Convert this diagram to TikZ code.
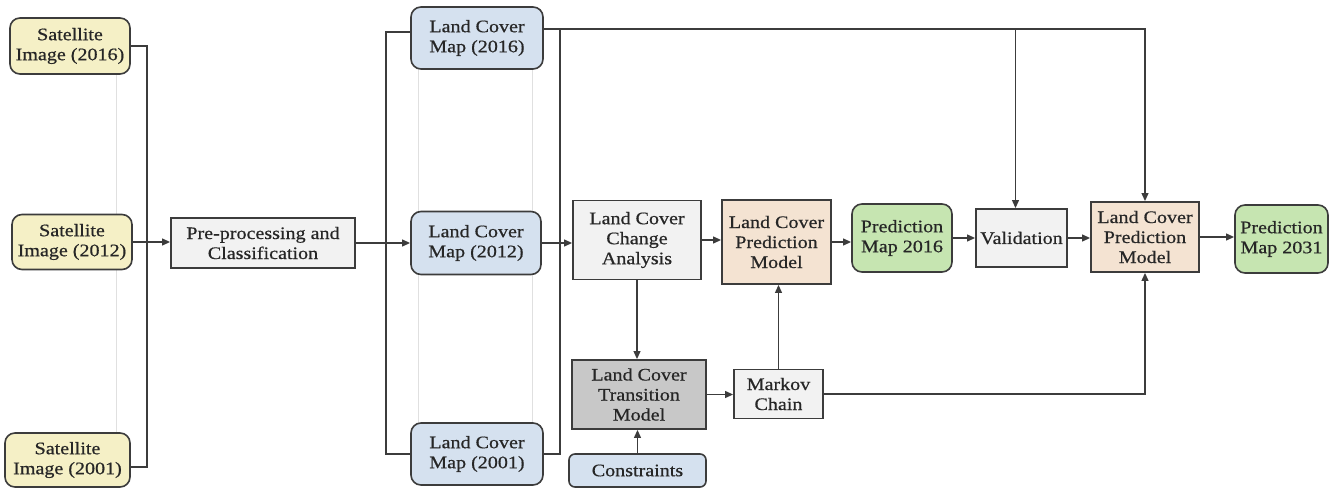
\documentclass[tikz,border=0pt]{standalone}
\usepackage{fontspec}
\setmainfont{Liberation Serif}[FakeStretch=1.14,FakeBold=0.6]
\usetikzlibrary{arrows.meta,calc}
\definecolor{yellowc}{HTML}{F5F0C6}
\definecolor{bluec}{HTML}{D5E1EF}
\definecolor{greyc}{HTML}{F2F2F2}
\definecolor{darkc}{HTML}{C8C8C8}
\definecolor{peachc}{HTML}{F4E3D2}
\definecolor{greenc}{HTML}{C6E5B1}
\definecolor{bordc}{HTML}{3C3C3C}
\begin{document}
\begin{tikzpicture}[x=0.75pt,y=-0.75pt,
  box/.style={draw=bordc, line width=1.2pt, align=center, inner sep=0pt, text=black!85, font=\fontsize{13.2}{15}\selectfont},
  rbox/.style={box, rounded corners=7.5pt},
  conn/.style={draw=bordc, line width=1.3pt},
  arr/.style={conn, -{Triangle[length=6pt,width=5pt]}},
  ghost/.style={draw=black!12, line width=0.5pt}]
\useasboundingbox[fill=white] (0,0) rectangle (1336,488);
% faint guide lines
\draw[ghost] (116,74) -- (116,433);
\draw[ghost] (418,69) -- (418,423);
\draw[ghost] (532,69) -- (532,423);
% satellite images
\node[rbox, fill=yellowc, minimum width=90pt, minimum height=42pt] (s16) at (70,46) {Satellite\\Image (2016)};
\node[rbox, fill=yellowc, minimum width=90pt, minimum height=41.25pt] (s12) at (72,242) {Satellite\\Image (2012)};
\node[rbox, fill=yellowc, minimum width=93.75pt, minimum height=40.5pt] (s01) at (67.5,460) {Satellite\\Image (2001)};
% preprocessing
\node[box, fill=greyc, minimum width=138pt, minimum height=37.5pt] (pre) at (263,243) {Pre-processing and\\Classification};
% land cover maps
\node[rbox, fill=bluec, minimum width=99pt, minimum height=46.5pt] (m16) at (477,38) {Land Cover\\Map (2016)};
\node[rbox, fill=bluec, minimum width=97.5pt, minimum height=47.25pt] (m12) at (476,243) {Land Cover\\Map (2012)};
\node[rbox, fill=bluec, minimum width=99pt, minimum height=46.5pt] (m01) at (477,454) {Land Cover\\Map (2001)};
% analysis
\node[box, fill=greyc, minimum width=96pt, minimum height=59.25pt] (ca) at (637,240) {Land Cover\\Change\\Analysis};
\node[box, fill=darkc, minimum width=100.5pt, minimum height=51.75pt] (tm) at (639,394.5) {Land Cover\\Transition\\Model};
\node[box, fill=bluec, rounded corners=4.5pt, minimum width=102.75pt, minimum height=24.75pt] (con) at (637.5,470.5) {Constraints};
\node[box, fill=greyc, minimum width=66.75pt, minimum height=36.75pt] (mc) at (778.5,394) {Markov\\Chain};
\node[box, fill=peachc, minimum width=81.75pt, minimum height=63pt] (pm1) at (776.5,242) {Land Cover\\Prediction\\Model};
\node[rbox, fill=greenc, minimum width=75pt, minimum height=51pt] (p16) at (902,238) {Prediction\\Map 2016};
\node[box, fill=greyc, minimum width=68.25pt, minimum height=43.5pt] (val) at (1021.5,238) {Validation};
\node[box, fill=peachc, minimum width=81pt, minimum height=52.5pt] (pm2) at (1145,237) {Land Cover\\Prediction\\Model};
\node[rbox, fill=greenc, minimum width=69.75pt, minimum height=51pt] (p31) at (1281.5,239) {Prediction\\Map 2031};
% connectors
\draw[conn] (s16.east) -- ++(16,0) |- ($(s01.east)+(0,7)$);
\draw[arr] (s12.east) -- (s12.east -| pre.west);
\draw[arr] (pre.east) -- (pre.east -| m12.west);
\coordinate (w16) at ($(m16.west)+(0,-6)$);
\draw[conn] (w16) -- ++(-24,0) |- (m01.west);
\coordinate (t16) at ($(m16.east)+(0,-9)$);
\draw[conn] (t16) -- ++(16,0) |- (m01.east);
\draw[arr] (t16) -| (pm2.north);
\coordinate (vb) at ($(val.north)+(-6,0)$);
\draw[arr] (vb |- t16) -- (vb);
\draw[arr] (m12.east) -- (m12.east -| ca.west);
\draw[arr] (ca.south) -- (ca.south |- tm.north);
\draw[arr] (con.north) -- (con.north |- tm.south);
\draw[arr] (tm.east) -- (tm.east -| mc.west);
\draw[arr] (mc.north) -- (mc.north |- pm1.south);
\draw[arr] (mc.east) -| (pm2.south);
\draw[arr] (ca.east) -- (ca.east -| pm1.west);
\draw[arr] (pm1.east) -- (pm1.east -| p16.west);
\draw[arr] (p16.east) -- (p16.east -| val.west);
\draw[arr] (val.east) -- (val.east -| pm2.west);
\draw[arr] (pm2.east) -- (pm2.east -| p31.west);
\end{tikzpicture}
\end{document}
